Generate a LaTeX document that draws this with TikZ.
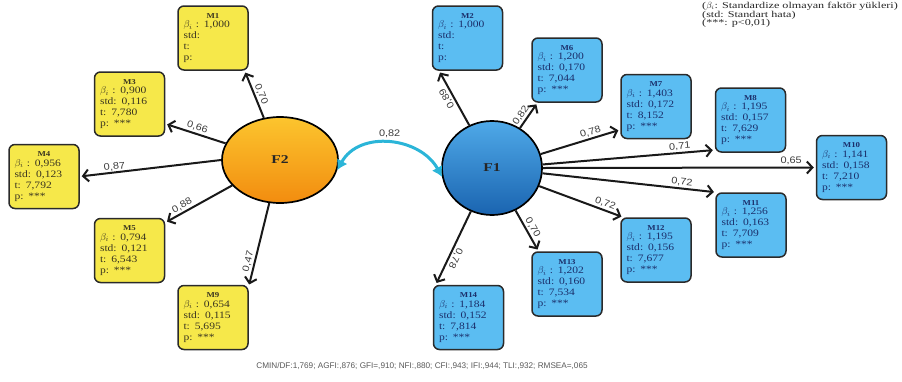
\documentclass[tikz,border=0pt]{standalone}
\usepackage{fontspec}
\setmainfont{Liberation Serif}
\newfontfamily\boxfont[FakeStretch=1.18]{Liberation Serif}
\newfontfamily\labfont[FakeStretch=1.15]{Liberation Sans}
\newfontfamily\fitfont{Liberation Sans}
\newfontfamily\legfont[FakeStretch=1.35]{Liberation Serif}
\newfontfamily\facfont[FakeStretch=1.3]{Liberation Serif}
\usetikzlibrary{arrows.meta,calc,shapes.geometric}
\definecolor{yfill}{HTML}{F6E84A}
\definecolor{bfill}{HTML}{5BBDF2}
\definecolor{ytext}{HTML}{3A3520}
\definecolor{btext}{HTML}{1B2F6B}
\definecolor{edge}{HTML}{2A2A2A}
\definecolor{cyanarr}{HTML}{2BB5D8}
\definecolor{labgray}{HTML}{3C3C3C}
\definecolor{ortop}{HTML}{FCC52E}
\definecolor{orbot}{HTML}{F28C0F}
\definecolor{bltop}{HTML}{4FA9E8}
\definecolor{blbot}{HTML}{1A64B0}
\newcommand\mtxt[5]{\makebox[\linewidth][c]{\fontsize{7.5}{8}\selectfont\bfseries #1}\\[-1.5pt]
$\beta_i$ : #2\\ std: #3\\ t: #4\\ p: #5}
\tikzset{
  boxbase/.style={draw=edge, line width=1.5pt, rounded corners=6pt, minimum width=70pt,
     minimum height=64pt, inner sep=0pt, text width=59pt, align=left,
     font=\boxfont\fontsize{9.8}{11}\selectfont},
  ybox/.style={boxbase, fill=yfill, text=ytext},
  bbox/.style={boxbase, fill=bfill, text=btext},
  arr/.style={line width=2pt, draw=black!90, -{Straight Barb[length=5.5pt,width=12pt]}, shorten >=2pt},
  lab/.style={font=\labfont\fontsize{9.5}{10}\selectfont, text=labgray, inner sep=1.5pt},
  fac/.style={ellipse, draw=black, line width=1.7pt, font=\facfont\fontsize{12}{13}\selectfont\bfseries, text=black!85}
}
\begin{document}
\begin{tikzpicture}[x=1pt,y=-1pt]
\useasboundingbox (0,0) rectangle (902,381);
% factors
\node[fac, minimum width=116pt, minimum height=86pt, top color=ortop, bottom color=orbot] (F2) at (280,160) {F2};
\node[fac, minimum width=100pt, minimum height=94pt, top color=bltop, bottom color=blbot] (F1) at (492,168) {F1};
% yellow boxes
\node[ybox] (M1) at (213,38) {\mtxt{M1}{1,000}{}{}{}};
\node[ybox] (M3) at (129.5,104) {\mtxt{M3}{0,900}{0,116}{7,780}{***}};
\node[ybox] (M4) at (44,176.5) {\mtxt{M4}{0,956}{0,123}{7,792}{***}};
\node[ybox] (M5) at (129.5,250.5) {\mtxt{M5}{0,794}{0,121}{6,543}{***}};
\node[ybox] (M9) at (213,317.5) {\mtxt{M9}{0,654}{0,115}{5,695}{***}};
% blue boxes
\node[bbox] (M2) at (467.5,38) {\mtxt{M2}{1,000}{}{}{}};
\node[bbox] (M6) at (567,70) {\mtxt{M6}{1,200}{0,170}{7,044}{***}};
\node[bbox] (M7) at (656,106.5) {\mtxt{M7}{1,403}{0,172}{8,152}{***}};
\node[bbox] (M8) at (750.5,120) {\mtxt{M8}{1,195}{0,157}{7,629}{***}};
\node[bbox] (M10) at (851.5,167.5) {\mtxt{M10}{1,141}{0,158}{7,210}{***}};
\node[bbox] (M11) at (751,225) {\mtxt{M11}{1,256}{0,163}{7,709}{***}};
\node[bbox] (M12) at (656,250) {\mtxt{M12}{1,195}{0,156}{7,677}{***}};
\node[bbox] (M13) at (567,284) {\mtxt{M13}{1,202}{0,160}{7,534}{***}};
\node[bbox] (M14) at (468.5,317.5) {\mtxt{M14}{1,184}{0,152}{7,814}{***}};
% F2 arrows
\draw[arr] (F2.111) -- (M1.-46) node[lab, pos=0.45, sloped, above] {0,70};
\draw[arr] (F2.163) -- (M3.-29) node[lab, pos=0.5, sloped, above] {0,66};
\draw[arr] (F2.180) -- (M4.east) node[lab, pos=0.75, sloped, above, yshift=-1pt] {0,87};
\draw[arr] (F2.208) -- (M5.38) node[lab, pos=0.7, sloped, above] {0,88};
\draw[arr] (F2.256) -- (M9.41) node[lab, pos=0.72, sloped, above] {0,47};
% F1 arrows
\draw[arr] (F1.118) -- (M2.229) node[lab, pos=0.55, sloped, allow upside down, above] {0,89};
\draw[arr] (F1.55) -- (M6.228) node[lab, pos=0.35, sloped, above] {0,82};
\draw[arr] (F1.16.5) -- (M7.213) node[lab, pos=0.65, sloped, above] {0,78};
\draw[arr] (F1.4.6) -- (M8.220) node[lab, pos=0.8, sloped, above] {0,71};
\draw[arr] (F1.0) -- (M10.west) node[lab, pos=0.91, sloped, above] {0,65};
\draw[arr] (F1.-6) -- (M11.137) node[lab, pos=0.8, sloped, above] {0,72};
\draw[arr] (F1.-21) -- (M12.135) node[lab, pos=0.76, sloped, above] {0,72};
\draw[arr] (F1.-61) -- (M13.131) node[lab, pos=0.5, sloped, above] {0,70};
\draw[arr] (F1.244) -- (M14.135) node[lab, pos=0.6, sloped, allow upside down, above] {0,78};
% covariance
\draw[cyanarr, line width=3pt, {Latex[length=10pt,width=12pt]}-{Latex[length=10pt,width=12pt]}]
  (F2.-10) .. controls ($(F2.-10)+(22,-40)$) and ($(F1.190)+(-22,-40)$) .. (F1.190)
  node[lab, midway, above, yshift=3pt] {0,82};
% legend
\node[anchor=north west, align=left, inner sep=0pt, font=\legfont\fontsize{9}{8.6}\selectfont, text=black!85] (leg) at (702,2)
  {($\beta_i$: Standardize olmayan faktör yükleri)\\(std: Standart hata)\\(***: p<0,01)};
% fit indices
\node[font=\fitfont\fontsize{8.2}{9}\selectfont, text=black!65, inner sep=0pt] (fit) at (422,366)
  {CMIN/DF:1,769; AGFI:,876; GFI=,910; NFI:,880; CFI:,943; IFI:,944; TLI:,932; RMSEA=,065};
\end{tikzpicture}
\end{document}
